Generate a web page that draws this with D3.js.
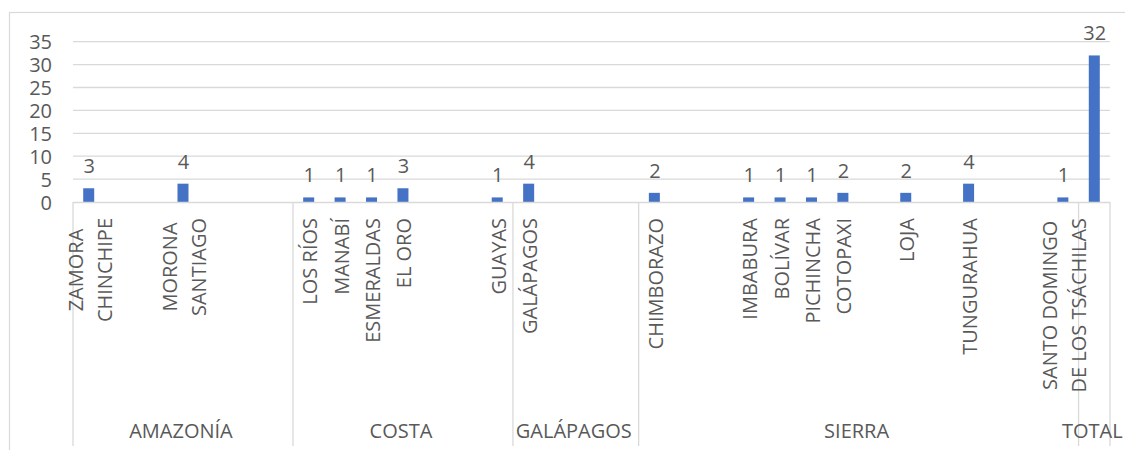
<!DOCTYPE html>
<html>
<head>
<meta charset="utf-8">
<script src="https://cdn.jsdelivr.net/npm/d3@7"></script>
<style>
  html, body { margin: 0; padding: 0; background: #fff; }
  svg { display: block; font-family: "Open Sans", "Noto Sans", sans-serif; }
</style>
</head>
<body>
<svg id="chart" width="1125" height="450"></svg>
<script>
// ---- data ----
const groups = ["AMAZONÍA", "COSTA", "GALÁPAGOS", "SIERRA", "TOTAL"];
const groupSizes = [7, 7, 4, 14, 1];
const categories = [
  "ZAMORA\nCHINCHIPE", "", "", "MORONA\nSANTIAGO", "", "", "",
  "LOS RÍOS", "MANABÍ", "ESMERALDAS", "EL ORO", "", "", "GUAYAS",
  "GALÁPAGOS", "", "", "",
  "CHIMBORAZO", "", "", "IMBABURA", "BOLÍVAR", "PICHINCHA", "COTOPAXI", "", "LOJA", "", "TUNGURAHUA", "", "", "SANTO DOMINGO\nDE LOS TSÁCHILAS",
  ""
];
const values = [
  3, null, null, 4, null, null, null,
  1, 1, 1, 3, null, null, 1,
  4, null, null, null,
  2, null, null, 1, 1, 1, 2, null, 2, null, 4, null, null, 1,
  32
];
const yTicks = [0, 5, 10, 15, 20, 25, 30, 35];

// ---- layout ----
const svg = d3.select("#chart");
const plotLeft = 73, plotRight = 1110, y0 = 202, yTop = 41.7;
const textColor = "#595959", gridColor = "#d9d9d9", barColor = "#4472C4";
const fontSize = 20;

// chart border
svg.append("rect").attr("x", 9.5).attr("y", 12.5).attr("width", 1130).attr("height", 450)
  .attr("fill", "none").attr("stroke", gridColor).attr("stroke-width", 1.2);

const x = d3.scaleBand().domain(d3.range(categories.length))
  .range([plotLeft, plotRight]).paddingInner(0.65).paddingOuter(0.325);
const step = x.step();
const y = d3.scaleLinear().domain([0, 35]).range([y0, yTop]);

// gridlines
svg.append("g").selectAll("line").data(yTicks.filter(d => d > 0)).join("line")
  .attr("x1", plotLeft).attr("x2", plotRight)
  .attr("y1", d => y(d)).attr("y2", d => y(d))
  .attr("stroke", gridColor).attr("stroke-width", 1.3);

// y axis labels
const yAxis = d3.axisLeft(y).tickValues(yTicks).tickSize(0).tickPadding(0);
const gy = svg.append("g").attr("transform", "translate(52,0)").call(yAxis);
gy.select(".domain").remove();
gy.selectAll("text").attr("fill", textColor).attr("font-size", fontSize)
  .attr("font-family", "'Open Sans', sans-serif").attr("dy", "0.35em");

// bars
const data = values.map((v, i) => ({i, v})).filter(d => d.v !== null);
svg.append("g").selectAll("rect").data(data).join("rect")
  .attr("x", d => x(d.i)).attr("width", x.bandwidth())
  .attr("y", d => y(d.v)).attr("height", d => y(0) - y(d.v))
  .attr("fill", barColor);

// data labels
svg.append("g").selectAll("text").data(data).join("text")
  .attr("x", d => x(d.i) + x.bandwidth() / 2 + 0.5)
  .attr("y", d => y(d.v) - 15)
  .attr("text-anchor", "middle").attr("font-size", fontSize).attr("fill", textColor)
  .text(d => d.v);

// x axis line
svg.append("line").attr("x1", plotLeft).attr("x2", plotRight)
  .attr("y1", y0 + 0.5).attr("y2", y0 + 0.5).attr("stroke", gridColor).attr("stroke-width", 1.3);

// group separators
let cum = [0];
groupSizes.forEach(s => cum.push(cum[cum.length - 1] + s));
const sepX = k => plotLeft + k * step;
svg.append("g").selectAll("line").data(cum).join("line")
  .attr("x1", d => sepX(d)).attr("x2", d => sepX(d))
  .attr("y1", y0).attr("y2", 446)
  .attr("stroke", gridColor).attr("stroke-width", 1.3);

// group labels
svg.append("g").selectAll("text").data(groups).join("text")
  .attr("x", (d, i) => (sepX(cum[i]) + sepX(cum[i + 1])) / 2 - 2)
  .attr("y", 438)
  .attr("text-anchor", "middle").attr("font-size", fontSize).attr("fill", textColor)
  .text(d => d);

// category labels (rotated)
const labTop = 218, lineGap = 29;
categories.forEach((c, i) => {
  if (!c) return;
  const lines = c.split("\n");
  const cx = x(i) + x.bandwidth() / 2 + 1.5;
  const g = svg.append("g");
  const texts = lines.map((ln, k) => g.append("text")
    .attr("text-anchor", "middle").attr("font-size", fontSize).attr("fill", textColor)
    .attr("dy", "0.35em").text(ln));
  const maxLen = d3.max(texts, t => t.node().getComputedTextLength());
  texts.forEach((t, k) => {
    const lx = cx + (k - (lines.length - 1) / 2) * lineGap;
    t.attr("transform", `translate(${lx},${labTop + maxLen / 2}) rotate(-90)`);
  });
});
</script>
</body>
</html>
